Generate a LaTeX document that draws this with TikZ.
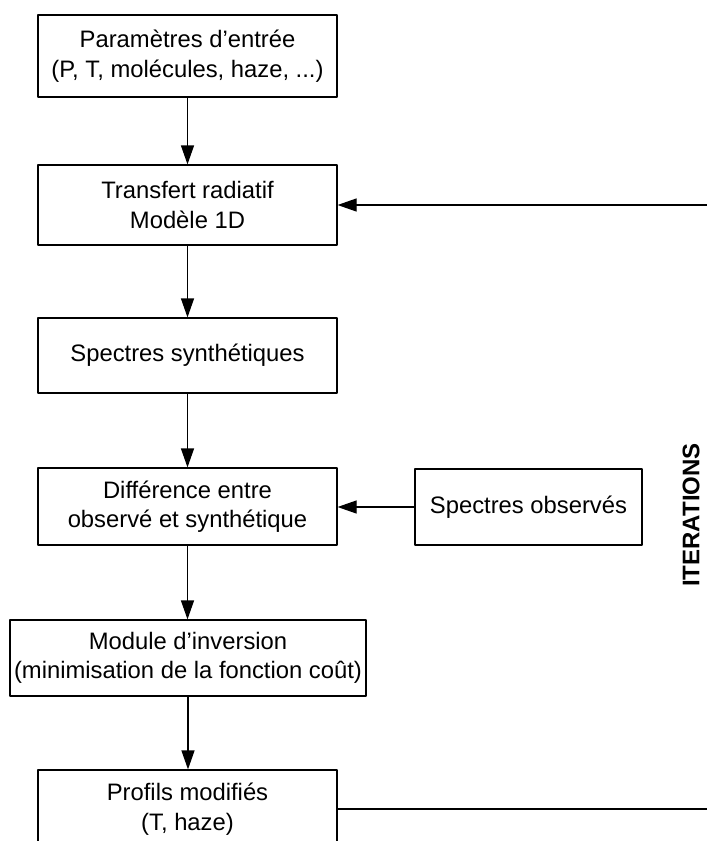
\documentclass[tikz,border=0pt]{standalone}
\usepackage{fontspec}
\setmainfont{Liberation Sans}
\usetikzlibrary{arrows.meta}
\newcommand{\Unit}{1pt}
\newcommand{\Edge}{1.2pt}
\tikzset{
  stepbox/.style={draw=black, line width=\Edge, align=center, inner sep=0pt,
    font=\fontsize{23.8}{29.5}\selectfont},
  flow/.style={draw=black, line width=\Edge, -{Triangle[length=19pt,width=13pt]}},
}

\begin{document}
\begin{tikzpicture}[x=\Unit,y=-\Unit, line join=round]
  \useasboundingbox (0,0) rectangle (707,841);

  % ---- main column --------------------------------------------------------
  \node[stepbox, minimum width=299pt, minimum height=82pt] (inp) at (187.5,56)
    {Paramètres d’entrée\\(P, T, molécules, haze, ...)};
  \node[stepbox, minimum width=299pt, minimum height=80pt] (rt) at (187.5,205)
    {Transfert radiatif\\Modèle 1D};
  \node[stepbox, minimum width=299pt, minimum height=75pt] (syn) at (187.5,355.5)
    {Spectres synthétiques};
  \node[stepbox, minimum width=299pt, minimum height=77pt] (diff) at (187.5,506.5)
    {Différence entre\\observé et synthétique};
  \node[stepbox, minimum width=356pt, minimum height=76pt] (inv) at (188,658)
    {Module d’inversion\\(minimisation de la fonction coût)};
  \node[stepbox, minimum width=299pt, minimum height=78pt] (prof) at (187.5,809)
    {Profils modifiés\\(T, haze)};

  % ---- observations -------------------------------------------------------
  \node[stepbox, minimum width=227pt, minimum height=76pt] (obs) at (528.5,507)
    {Spectres observés};

  % ---- arrows -------------------------------------------------------------
  \draw[flow] (inp) -- (rt);
  \draw[flow] (rt) -- (syn);
  \draw[flow] (syn) -- (diff);
  \draw[flow] (diff.south) -- (diff.south |- inv.north);
  \draw[flow] (obs.west) -- (diff.east |- obs.west);
  \draw[flow] (inv.south) -- (inv.south |- prof.north);

  % ---- loop back, its vertical run lies just past the page edge -----------
  \coordinate (loopb) at (715,809);
  \coordinate (loopt) at (715,205);
  \draw[line width=\Edge] (prof.east) -- (loopb) -- (loopt);
  \draw[flow] (loopt) -- (rt.east);
  \node[rotate=90, font=\fontsize{24}{29}\selectfont\bfseries] (iter) at (691,515)
    {ITERATIONS};

\end{tikzpicture}
\end{document}
